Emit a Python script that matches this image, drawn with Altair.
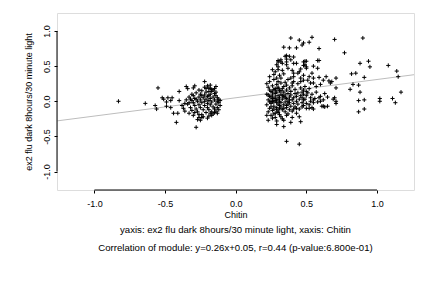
import altair as alt
import pandas as pd

FONT = "Liberation Sans"

# ---- data ----
left_sparse = [
    (-0.83, 0.00), (-0.64, -0.03), (-0.57, -0.06), (-0.56, -0.11), (-0.55, 0.19),
    (-0.52, 0.05), (-0.51, 0.03), (-0.49, -0.01), (-0.49, -0.07), (-0.48, 0.05),
    (-0.45, 0.05), (-0.46, 0.01), (-0.46, -0.09), (-0.44, -0.17), (-0.42, -0.30),
    (-0.41, -0.17), (-0.40, 0.14), (-0.40, 0.01), (-0.38, -0.06), (-0.37, -0.10),
    (-0.35, 0.21), (-0.34, 0.18), (-0.33, -0.17), (-0.36, -0.03), (-0.31, 0.10),
    (-0.30, -0.20), (-0.28, -0.37), (-0.29, 0.22), (-0.30, 0.19), (-0.22, 0.28),
    (-0.27, -0.26), (-0.25, -0.27), (-0.20, 0.22), (-0.18, 0.18), (-0.19, 0.14),
    (-0.26, -0.23), (-0.24, -0.23),
]
left_dense = [
    (-0.35, 0.02), (-0.34, -0.04), (-0.33, 0.06), (-0.32, -0.09), (-0.31, 0.01),
    (-0.31, -0.13), (-0.30, 0.08), (-0.30, -0.02), (-0.29, -0.06), (-0.29, 0.04),
    (-0.28, -0.11), (-0.28, 0.12), (-0.27, 0.00), (-0.27, -0.15), (-0.26, 0.06),
    (-0.26, -0.05), (-0.25, 0.10), (-0.25, -0.09), (-0.25, 0.02), (-0.24, -0.19),
    (-0.24, 0.15), (-0.24, -0.02), (-0.23, 0.05), (-0.23, -0.12), (-0.22, 0.09),
    (-0.22, -0.06), (-0.22, 0.00), (-0.21, -0.16), (-0.21, 0.13), (-0.21, 0.03),
    (-0.20, -0.09), (-0.20, 0.07), (-0.20, -0.03), (-0.19, -0.21), (-0.19, 0.01),
    (-0.19, -0.12), (-0.18, 0.10), (-0.18, -0.05), (-0.18, 0.04), (-0.17, -0.15),
    (-0.17, 0.14), (-0.17, -0.01), (-0.16, 0.06), (-0.16, -0.08), (-0.16, -0.18),
    (-0.15, 0.02), (-0.15, 0.11), (-0.15, -0.11), (-0.14, -0.04), (-0.14, 0.08),
    (-0.14, -0.14), (-0.13, 0.00), (-0.13, 0.05), (-0.13, -0.09), (-0.12, -0.02),
    (-0.12, 0.03), (-0.12, -0.12), (-0.11, 0.01), (-0.11, -0.06), (-0.23, -0.22),
    (-0.20, -0.24), (-0.17, -0.20), (-0.26, 0.16), (-0.21, 0.18), (-0.16, 0.16),
    (-0.14, 0.13), (-0.19, 0.08), (-0.24, 0.08), (-0.28, 0.03), (-0.32, 0.03),
    (-0.33, -0.02), (-0.36, -0.14), (-0.26, -0.19), (-0.29, -0.16), (-0.18, -0.17),
    (-0.15, -0.16), (-0.13, -0.17), (-0.22, 0.20), (-0.18, 0.23), (-0.15, 0.18),
    (-0.14, 0.21), (-0.19, 0.19), (-0.17, 0.17),
]
right_sparse = [
    (0.39, 0.90), (0.45, 0.87), (0.48, 0.83), (0.47, 0.80), (0.52, 0.84),
    (0.54, 0.91), (0.34, 0.77), (0.38, 0.76), (0.43, 0.76), (0.59, 0.75),
    (0.70, 0.88), (0.90, 0.90), (0.77, 0.69), (0.36, 0.65), (0.38, 0.64),
    (0.41, 0.63), (0.30, 0.58), (0.32, 0.56), (0.36, 0.56), (0.43, 0.54),
    (0.49, 0.57), (0.49, 0.52), (0.58, 0.58), (0.55, 0.50), (0.50, 0.47),
    (0.88, 0.54), (0.94, 0.57), (0.95, 0.49), (1.08, 0.51), (1.14, 0.43),
    (1.15, 0.35), (0.82, 0.39), (0.85, 0.40), (0.91, 0.34), (0.64, 0.35),
    (0.68, 0.28), (0.71, 0.19), (0.83, 0.24), (0.87, 0.23), (0.81, 0.17),
    (0.88, 0.13), (1.17, 0.13), (0.87, 0.01), (0.91, 0.02), (1.02, 0.04),
    (1.02, 0.00), (1.11, 0.04), (1.13, -0.02), (0.87, -0.15), (0.91, -0.11),
    (0.65, 0.06), (0.70, 0.05), (0.71, -0.03), (0.62, -0.07), (0.65, -0.07),
    (0.71, 0.00), (0.29, -0.33), (0.34, -0.36), (0.39, -0.30), (0.45, -0.22),
    (0.46, -0.29), (0.36, -0.57), (0.45, -0.61), (0.41, -0.11), (0.43, -0.10),
    (0.47, -0.08), (0.50, -0.10), (0.52, -0.10), (0.54, -0.09), (0.55, -0.11),
    (0.61, -0.07), (0.63, -0.08), (0.69, 0.03), (0.59, 0.05), (0.60, 0.00),
    (0.55, 0.02), (0.53, 0.00), (0.48, 0.02), (0.47, 0.13), (0.48, 0.16),
    (0.50, 0.14), (0.35, 0.64), (0.36, 0.60), (0.39, 0.59), (0.32, 0.59),
    (0.30, 0.56), (0.29, 0.52), (0.33, 0.54), (0.36, 0.52), (0.41, 0.54),
    (0.48, 0.56), (0.50, 0.57), (0.48, 0.51), (0.59, 0.58), (0.58, 0.47),
    (0.50, 0.49), (0.46, 0.46), (0.45, 0.42), (0.41, 0.40), (0.54, 0.40),
    (0.48, 0.37), (0.52, 0.35), (0.55, 0.33), (0.59, 0.34), (0.62, 0.30),
    (0.66, 0.29), (0.67, 0.26), (0.60, 0.24), (0.53, 0.26), (0.28, 0.42),
    (0.30, 0.45), (0.31, 0.37), (0.29, 0.33), (0.30, 0.28), (0.32, 0.26),
    (0.34, 0.21), (0.36, 0.23), (0.40, 0.26), (0.39, 0.33), (0.41, 0.28),
    (0.46, 0.28), (0.48, 0.30), (0.71, 0.33), (0.28, 0.16), (0.30, 0.18),
]
right_dense = [
    (0.22, 0.10), (0.22, -0.05), (0.23, 0.02), (0.23, 0.20), (0.23, -0.15),
    (0.24, 0.07), (0.24, -0.10), (0.24, 0.28), (0.25, 0.00), (0.25, 0.14),
    (0.25, -0.20), (0.25, -0.03), (0.26, 0.09), (0.26, -0.13), (0.26, 0.22),
    (0.26, 0.04), (0.27, -0.07), (0.27, 0.17), (0.27, 0.31), (0.27, -0.01),
    (0.28, 0.11), (0.28, -0.17), (0.28, 0.06), (0.28, -0.23), (0.29, 0.02),
    (0.29, 0.24), (0.29, -0.09), (0.29, 0.13), (0.30, -0.04), (0.30, 0.08),
    (0.30, -0.14), (0.30, 0.20), (0.31, 0.00), (0.31, -0.19), (0.31, 0.15),
    (0.31, 0.05), (0.32, -0.08), (0.32, 0.10), (0.32, -0.02), (0.32, 0.33),
    (0.33, 0.18), (0.33, -0.12), (0.33, 0.03), (0.33, -0.25), (0.34, 0.07),
    (0.34, -0.05), (0.34, 0.13), (0.34, 0.39), (0.35, -0.01), (0.35, -0.15),
    (0.35, 0.09), (0.35, 0.27), (0.36, 0.04), (0.36, -0.09), (0.36, 0.16),
    (0.36, -0.20), (0.37, 0.00), (0.37, 0.11), (0.37, -0.04), (0.37, 0.31),
    (0.38, 0.06), (0.38, -0.12), (0.38, 0.19), (0.38, -0.02), (0.39, 0.09),
    (0.39, -0.07), (0.39, 0.14), (0.40, 0.02), (0.40, -0.14), (0.40, 0.22),
    (0.41, 0.05), (0.41, -0.03), (0.41, 0.35), (0.42, 0.11), (0.42, -0.08),
    (0.42, 0.17), (0.43, 0.00), (0.43, 0.07), (0.43, -0.17), (0.44, 0.12),
    (0.44, -0.04), (0.44, 0.25), (0.45, 0.03), (0.45, -0.11), (0.46, 0.08),
    (0.46, 0.19), (0.47, -0.02), (0.47, 0.05), (0.48, 0.10), (0.48, -0.06),
    (0.49, 0.21), (0.49, 0.03), (0.50, -0.03), (0.50, 0.08), (0.51, 0.12),
    (0.52, -0.05), (0.52, 0.18), (0.53, 0.05), (0.54, 0.10), (0.55, -0.02),
    (0.56, 0.04), (0.57, 0.13), (0.58, -0.01), (0.60, 0.07), (0.62, 0.02),
    (0.63, 0.11), (0.57, 0.21), (0.55, 0.26), (0.51, 0.30), (0.46, 0.33),
    (0.44, 0.40), (0.40, 0.44), (0.37, 0.47), (0.33, 0.44), (0.30, 0.49),
    (0.27, 0.38), (0.26, 0.45), (0.24, 0.35), (0.22, 0.25), (0.22, -0.20),
    (0.23, -0.27), (0.26, -0.24), (0.29, -0.28), (0.32, -0.22), (0.34, -0.27),
    (0.37, -0.18), (0.40, -0.23), (0.24, -0.01), (0.26, 0.00), (0.28, 0.01),
    (0.27, 0.04), (0.25, 0.06), (0.29, -0.02), (0.31, -0.06), (0.30, 0.03),
    (0.33, 0.08), (0.35, 0.05), (0.32, 0.15), (0.28, 0.18), (0.26, 0.13),
    (0.24, 0.16), (0.23, 0.09), (0.27, -0.11), (0.25, -0.08), (0.29, -0.12),
    (0.31, -0.10), (0.34, -0.10), (0.36, -0.06), (0.38, 0.02), (0.30, -0.16),
    (0.27, -0.18),
]

# regression line y = 0.26x + 0.05 end points read at the plot edges
fit_x = [-1.265, 1.262]
fit_y = [-0.279, 0.378]

x_domain = [-1.265, 1.262]
y_domain = [-1.262, 1.256]
x_ticks = [-1.0, -0.5, 0.0, 0.5, 1.0]
y_ticks = [-1.0, -0.5, 0.0, 0.5, 1.0]

x_title = "Chitin"
y_title = "ex2 flu dark 8hours/30 minute light"
caption = [
    "yaxis: ex2 flu dark 8hours/30 minute light, xaxis: Chitin",
    "Correlation of module: y=0.26x+0.05, r=0.44 (p-value:6.800e-01)",
]

pts = left_sparse + left_dense + right_sparse + right_dense
df = pd.DataFrame({"x": [p[0] for p in pts], "y": [p[1] for p in pts]})
fit_df = pd.DataFrame({"x": fit_x, "y": fit_y})

W, H = 357, 177
FS = 9

label_expr = "datum.value < 0 ? '-' + format(-datum.value, '.1f') : format(datum.value, '.1f')"

xs = alt.Scale(domain=x_domain, nice=False, zero=False)
ys = alt.Scale(domain=y_domain, nice=False, zero=False)

x_axis = alt.Axis(values=x_ticks, labelExpr=label_expr, tickSize=3, tickColor="black",
                  labelFontSize=FS, labelColor="black", labelFont=FONT, labelPadding=6,
                  domain=False, grid=False, title=x_title, titleFont=FONT, titleFontSize=FS,
                  titleFontWeight="normal", titleColor="black", titlePadding=2, labelFlush=False)
y_axis = alt.Axis(values=y_ticks, labelExpr=label_expr, tickSize=3, tickColor="black",
                  labelFontSize=FS, labelColor="black", labelFont=FONT, labelPadding=3,
                  labelAngle=-90, labelAlign="center", labelBaseline="bottom",
                  domain=False, grid=False, title=y_title, titleFont=FONT, titleFontSize=FS,
                  titleFontWeight="normal", titleColor="black", titlePadding=9, labelFlush=False)

fit = alt.Chart(fit_df).mark_line(color="#bdbdbd", strokeWidth=1, clip=True).encode(
    x=alt.X("x:Q", scale=xs, axis=x_axis),
    y=alt.Y("y:Q", scale=ys, axis=y_axis),
)

plus = "M-1,0L1,0M0,-1L0,1"
points = alt.Chart(df).mark_point(shape=plus, size=17, filled=False, stroke="black",
                                  strokeWidth=1, opacity=1).encode(
    x=alt.X("x:Q", scale=xs),
    y=alt.Y("y:Q", scale=ys),
)

xaxis_line = alt.Chart(pd.DataFrame({"a": [x_ticks[0]], "b": [x_ticks[-1]]})).mark_rule(
    color="black", strokeWidth=1).encode(x=alt.X("a:Q", scale=xs), x2="b:Q", y=alt.value(H))
yaxis_line = alt.Chart(pd.DataFrame({"a": [y_ticks[0]], "b": [y_ticks[-1]]})).mark_rule(
    color="black", strokeWidth=1).encode(y=alt.Y("a:Q", scale=ys), y2="b:Q", x=alt.value(0))

chart = alt.layer(fit, points, xaxis_line, yaxis_line).properties(
    width=W, height=H,
    autosize=alt.AutoSizeParams(type="none"),
    padding={"left": 57, "top": 13, "right": 18, "bottom": 98},
    title=alt.TitleParams(text=caption, orient="bottom", anchor="middle", fontSize=9.6,
                          fontWeight="normal", font=FONT, color="black", lineHeight=18, offset=6),
).configure_view(stroke="#888888", strokeWidth=1).configure(background="white")

chart.save("out.html", embed_options={"renderer": "svg", "actions": False})
